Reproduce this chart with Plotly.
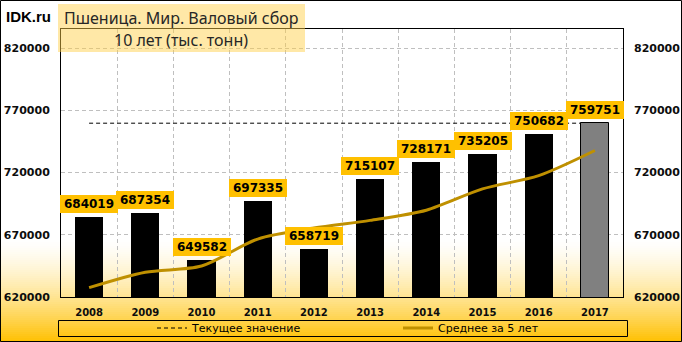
import plotly.graph_objects as go

# ---- data ----
years = [2008, 2009, 2010, 2011, 2012, 2013, 2014, 2015, 2016, 2017]
year_labels = [str(y) for y in years]
values = [684019, 687354, 649582, 697335, 658719, 715107, 728171, 735205, 750682, 759751]
avg5 = [627500, 639900, 644900, 666600, 675402, 681619, 689783, 706907, 717577, 737783]
current_value = 759751
title_line1 = "Пшеница. Мир. Валовый сбор"
title_line2 = "10 лет (тыс. тонн)"
legend_current = "Текущее значение"
legend_avg = "Среднее за 5 лет"
brand = "IDK.ru"

# ---- geometry helpers ----
W, H = 682, 342
L, R, T, B = 61, 59, 29, 45
pw, ph = W - L - R, H - T - B


def px(x):
    return (x - L) / pw


def py(y):
    return (H - B - y) / ph


YMIN, YMAX = 620000, 835500
bar_w = 0.5
gold = "#FFC000"
line_gold = "#BF9000"
grid_c = "#BFBFBF"

bar_colors = ["#000000"] * (len(years) - 1) + ["#808080"]
bar_lw = [0] * (len(years) - 1) + [1]

fig = go.Figure()
fig.add_trace(go.Bar(
    x=years, y=values, width=bar_w,
    marker=dict(color=bar_colors, line=dict(color="black", width=bar_lw)),
    showlegend=False, hoverinfo="skip",
))
fig.add_trace(go.Scatter(
    x=[years[0], years[-1] - bar_w / 2], y=[current_value, current_value],
    mode="lines", line=dict(color="black", width=1, dash="4px,3px"),
    name=legend_current, legend="legend",
))
fig.add_trace(go.Scatter(
    x=years, y=avg5, mode="lines", yaxis="y2",
    line=dict(color=line_gold, width=3, shape="spline", smoothing=0.8),
    name=legend_avg, legend="legend2",
))

shapes = []
# background gradient (white -> gold) in lower part of figure
g_top, g_bot = 238, 342
n = 52
for i in range(n):
    y0 = g_top + (g_bot - g_top) * i / n
    y1 = g_top + (g_bot - g_top) * (i + 1) / n
    t = ((i + 0.5) / n) ** 1.5
    r = 255
    g = round(255 - t * (255 - 192))
    b = round(255 - t * 255)
    shapes.append(dict(type="rect", xref="paper", yref="paper",
                       x0=px(0), x1=px(W), y0=py(y1), y1=py(y0),
                       fillcolor=f"rgb({r},{g},{b})", line=dict(width=0),
                       layer="below"))
# title box
shapes.append(dict(type="rect", xref="paper", yref="paper",
                   x0=px(58), x1=px(305), y0=py(52), y1=py(4),
                   fillcolor="rgba(255,206,72,0.48)", line=dict(width=0),
                   layer="above"))
# legend box
shapes.append(dict(type="rect", xref="paper", yref="paper",
                   x0=px(58.5), x1=px(627.5), y0=py(336.5), y1=py(320.5),
                   fillcolor="rgba(0,0,0,0)", line=dict(color="black", width=1),
                   layer="above"))
# outer frame
shapes.append(dict(type="rect", xref="paper", yref="paper",
                   x0=px(0.5), x1=px(W - 0.5), y0=py(H - 0.5), y1=py(0.5),
                   fillcolor="rgba(0,0,0,0)", line=dict(color="black", width=1),
                   layer="above"))

annotations = []
for yr, v in zip(years, values):
    annotations.append(dict(
        x=yr, y=v, xref="x", yref="y", text=f"{v}", showarrow=False,
        yanchor="bottom", xanchor="center", yshift=4,
        bgcolor=gold, borderpad=2, borderwidth=0, width=54,
        font=dict(family="DejaVu Sans", size=12, color="black", weight="bold"),
    ))
annotations.append(dict(
    x=px(181), y=py(18), xref="paper", yref="paper", text=title_line1,
    showarrow=False, xanchor="center", yanchor="middle",
    font=dict(family="Noto Sans", size=16, color="#262626"),
))
annotations.append(dict(
    x=px(181), y=py(40), xref="paper", yref="paper", text=title_line2,
    showarrow=False, xanchor="center", yanchor="middle",
    font=dict(family="Noto Sans", size=16, color="#262626"),
))
annotations.append(dict(
    x=px(4), y=py(16), xref="paper", yref="paper", text=brand,
    showarrow=False, xanchor="left", yanchor="middle",
    font=dict(family="Liberation Sans", size=15, color="black", weight="bold"),
))

tickfont_y = dict(family="DejaVu Sans", size=11, color="#0d0d0d", weight="bold")
tickfont_x = dict(family="DejaVu Sans", size=10, color="#0d0d0d", weight="bold")
legfont = dict(family="DejaVu Sans", size=11, color="black")

fig.update_layout(
    width=W, height=H,
    margin=dict(l=L, r=R, t=T, b=B, pad=0, autoexpand=False),
    paper_bgcolor="white", plot_bgcolor="rgba(0,0,0,0)",
    bargap=0,
    xaxis=dict(
        range=[years[0] - 0.5, years[-1] + 0.5], tickmode="array",
        tickvals=years, ticktext=year_labels, tickfont=tickfont_x,
        showgrid=False, zeroline=False, showline=True, linecolor="black",
        linewidth=1, mirror=True, ticks="", ticklabelstandoff=6,
        minor=dict(tickmode="array", tickvals=[y + 0.5 for y in years[:-1]],
                   showgrid=True, gridcolor=grid_c, griddash="4px,3px",
                   gridwidth=1, ticks=""),
    ),
    yaxis=dict(
        range=[YMIN, YMAX], tick0=YMIN, dtick=50000, tickformat="d",
        tickfont=tickfont_y, showgrid=True, gridcolor=grid_c,
        griddash="4px,3px", gridwidth=1, zeroline=False, showline=True,
        linecolor="black", linewidth=1, mirror=True, ticks="",
        ticklabelstandoff=8,
    ),
    yaxis2=dict(
        range=[YMIN, YMAX], tick0=YMIN, dtick=50000, tickformat="d",
        tickfont=tickfont_y, overlaying="y", side="right", showgrid=False,
        zeroline=False, showline=False, ticks="", ticklabelstandoff=10,
    ),
    legend=dict(x=px(152), y=py(328), xanchor="left", yanchor="middle",
                orientation="h", bgcolor="rgba(0,0,0,0)", borderwidth=0,
                font=legfont),
    legend2=dict(x=px(398), y=py(328), xanchor="left", yanchor="middle",
                 orientation="h", bgcolor="rgba(0,0,0,0)", borderwidth=0,
                 font=legfont),
    shapes=shapes,
    annotations=annotations,
)

fig.write_html("out.html")
